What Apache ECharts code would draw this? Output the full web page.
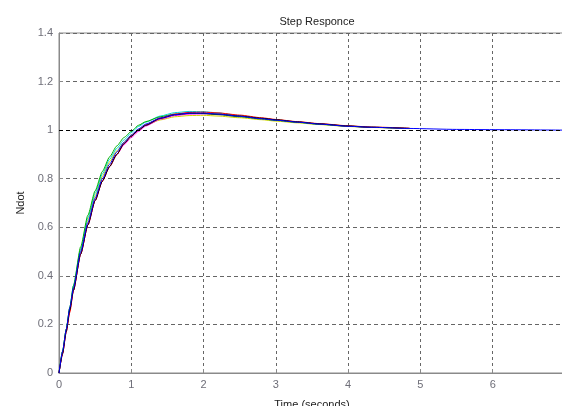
<!DOCTYPE html>
<html>
<head>
<meta charset="utf-8">
<script src="https://cdn.jsdelivr.net/npm/echarts@6/dist/echarts.min.js"></script>
<style>
    html, body { margin: 0; padding: 0; background: #fff; }
    #main { width: 562px; height: 406px; }
</style>
</head>
<body>
<div id="main"></div>
<script>
// time samples (seconds)
var timeS = [0, 0.05, 0.1, 0.15, 0.2, 0.3, 0.4, 0.5, 0.6, 0.7, 0.8, 0.9, 1.0, 1.1, 1.2, 1.4, 1.6, 1.8, 2.0, 2.2, 2.5, 2.8, 3.0, 3.3, 3.6, 4.0, 4.3, 4.85, 5.5, 6.0, 7.0];

// responses (each one stops where its trace stops)
var blueY    = [0, 0.09, 0.18, 0.27, 0.35, 0.50, 0.62, 0.72, 0.80, 0.86, 0.91, 0.95, 0.98, 1.005, 1.025, 1.050, 1.064, 1.070, 1.070, 1.066, 1.057, 1.047, 1.041, 1.033, 1.025, 1.016, 1.012, 1.007, 1.003, 1.002, 1.000];
var greenY   = [0, 0.09, 0.18, 0.27, 0.36, 0.52, 0.65, 0.75, 0.83, 0.89, 0.935, 0.97, 0.995, 1.02, 1.035, 1.055, 1.066, 1.070, 1.068, 1.064, 1.055, 1.046, 1.040, 1.032, 1.024, 1.016, 1.012, 1.007];
var redY     = [0, 0.08, 0.17, 0.25, 0.34, 0.49, 0.61, 0.71, 0.79, 0.85, 0.90, 0.945, 0.975, 1.00, 1.022, 1.050, 1.066, 1.073, 1.074, 1.071, 1.062, 1.051, 1.044, 1.035, 1.027, 1.018, 1.013, 1.008];
var cyanY    = [0, 0.09, 0.18, 0.27, 0.36, 0.51, 0.64, 0.74, 0.82, 0.88, 0.925, 0.96, 0.99, 1.015, 1.033, 1.058, 1.072, 1.077, 1.076, 1.071, 1.060, 1.049, 1.042, 1.033, 1.025, 1.017, 1.012];
var magentaY = [0, 0.08, 0.17, 0.26, 0.34, 0.49, 0.61, 0.71, 0.79, 0.85, 0.90, 0.94, 0.97, 0.995, 1.017, 1.045, 1.060, 1.066, 1.067, 1.064, 1.056, 1.047, 1.041, 1.033, 1.025, 1.016, 1.012];
var yellowY  = [0, 0.09, 0.18, 0.27, 0.35, 0.51, 0.63, 0.73, 0.81, 0.87, 0.915, 0.95, 0.98, 1.003, 1.02, 1.042, 1.055, 1.060, 1.061, 1.058, 1.051, 1.043, 1.037, 1.030, 1.023, 1.015, 1.011, 1.006];
var blackY   = [0, 0.08, 0.17, 0.26, 0.34, 0.49, 0.61, 0.71, 0.79, 0.85, 0.90, 0.945, 0.975, 1.00, 1.02, 1.048, 1.063, 1.069, 1.069, 1.066, 1.058, 1.049, 1.043, 1.034, 1.026, 1.017, 1.012, 1.007];

var xTicks = [0, 1, 2, 3, 4, 5, 6];
var yTicks = [0, 0.2, 0.4, 0.6, 0.8, 1, 1.2, 1.4];

function pairs(yArr) {
    var out = [];
    for (var i = 0; i < yArr.length; i++) {
        out.push([timeS[i], yArr[i]]);
    }
    return out;
}

function trace(name, color, yArr) {
    return {
        name: name,
        type: 'line',
        data: pairs(yArr),
        showSymbol: false,
        smooth: 0.2,
        smoothMonotone: 'x',
        animation: false,
        lineStyle: { color: color, width: 1 }
    };
}

var chart = echarts.init(document.getElementById('main'));

var series = [
    trace('yellow', '#d4d400', yellowY),
    trace('cyan', '#00d4d4', cyanY),
    trace('magenta', '#ff00ff', magentaY),
    trace('green', '#00b000', greenY),
    trace('red', '#ff0000', redY),
    trace('black', '#000000', blackY),
    trace('blue', '#0000ff', blueY)
];

// steady-state reference line
series[series.length - 1].markLine = {
    silent: true,
    symbol: 'none',
    label: { show: false },
    animation: false,
    lineStyle: { color: '#000', type: [4, 3], width: 1.2 },
    data: [{ yAxis: 1 }]
};

var option = {
    backgroundColor: '#fff',
    title: {
        text: 'Step Responce',
        left: 312,
        top: 11,
        textAlign: 'center',
        textStyle: { fontFamily: 'Liberation Sans', fontSize: 11, fontWeight: 'normal', color: '#222' }
    },
    grid: {
        left: 59,
        top: 33,
        width: 506,
        height: 340,
        outerBoundsMode: 'none',
        containLabel: false,
        show: true,
        borderColor: '#8a8a8a',
        borderWidth: 1
    },
    xAxis: {
        type: 'value',
        min: 0,
        max: 7,
        interval: 1,
        name: 'Time (seconds)',
        nameLocation: 'middle',
        nameGap: 26,
        nameTextStyle: { fontFamily: 'Liberation Sans', fontSize: 11, color: '#222' },
        axisLine: { lineStyle: { color: '#8a8a8a', width: 1 } },
        axisTick: { inside: true, length: 4, lineStyle: { color: '#8a8a8a' } },
        axisLabel: {
            margin: 6,
            fontFamily: 'Liberation Sans',
            fontSize: 11,
            color: '#6e6e78',
            formatter: function (v) { return xTicks.indexOf(v) >= 0 ? String(v) : ''; }
        },
        splitLine: { lineStyle: { color: '#666', type: [3, 3], width: 1 } }
    },
    yAxis: {
        type: 'value',
        min: 0,
        max: 1.4,
        interval: 0.2,
        name: 'Ndot',
        nameLocation: 'middle',
        nameGap: 33,
        nameTextStyle: { fontFamily: 'Liberation Sans', fontSize: 11, color: '#222' },
        axisLine: { show: true, lineStyle: { color: '#8a8a8a', width: 1 } },
        axisTick: { show: true, inside: true, length: 4, lineStyle: { color: '#8a8a8a' } },
        axisLabel: {
            margin: 6,
            fontFamily: 'Liberation Sans',
            fontSize: 11,
            color: '#6e6e78',
            formatter: function (v) {
                var r = Math.round(v * 10) / 10;
                return yTicks.indexOf(r) >= 0 ? String(r) : '';
            }
        },
        splitLine: { lineStyle: { color: '#666', type: [4, 3], width: 1 } }
    },
    series: series
};

chart.setOption(option);
</script>
</body>
</html>
